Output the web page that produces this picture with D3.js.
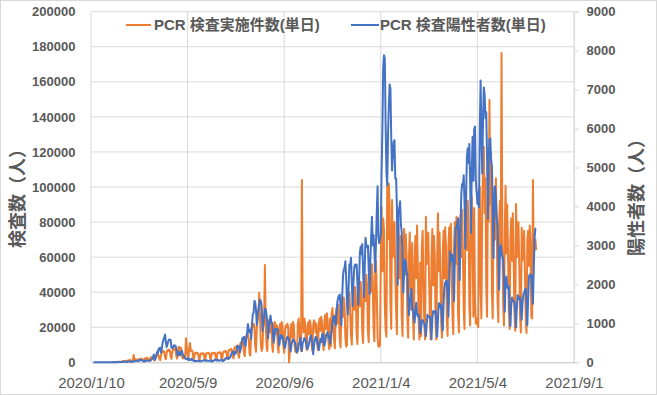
<!DOCTYPE html>
<html>
<head>
<meta charset="utf-8">
<script src="https://cdn.jsdelivr.net/npm/d3@7"></script>
<style>
body { margin: 0; background: #fff; }
svg { display: block; font-family: "Liberation Sans", Arial, "Noto Sans CJK JP", sans-serif; }
</style>
</head>
<body>
<svg width="657" height="395"></svg>
<script>
// daily values, one row per week (Mon..Sun), first row starts on 2020-01-13
var firstDay = "2020-01-13";

// PCR 検査実施件数(単日)  -> left axis
var tests = [
  [null,null,null,null,null,null,null],
  [null,null,null,null,null,null,null],
  [null,null,null,null,null,null,null],
  [null,null,null,0,100,150,60],
  [150,200,300,250,350,150,100],
  [400,600,700,500,800,400,300],
  [900,1100,1000,1400,1200,600,400],
  [1500,4200,1300,1600,1800,900,700],
  [1500,2000,1800,2200,2100,1000,800],
  [1700,2300,1900,2600,2400,1200,900],
  [1900,2800,2500,3000,2600,1300,1000],
  [2500,3500,3600,4500,4000,1800,1200],
  [4000,5500,6000,6500,6000,2800,1800],
  [5500,7000,6500,7200,6800,3000,2000],
  [6000,7500,7200,8000,7400,3300,2100],
  [6500,8900,4000,8500,8000,3400,2200],
  [2500,2800,3000,13700,8500,4000,2300],
  [8000,11000,6500,7000,6200,3000,1900],
  [5200,5600,5000,5400,5000,2400,1500],
  [4800,5100,4800,5200,5000,2300,1500],
  [4900,5300,5000,5400,5100,2400,1600],
  [5000,5400,5100,5500,5200,2500,1600],
  [5200,5600,5300,5800,5500,2600,1700],
  [5700,6200,5900,6500,6200,2900,1900],
  [6600,7200,6800,7600,7300,3400,2200],
  [7800,8800,8300,9300,8800,4100,2600],
  [9800,11300,10800,12300,11300,5300,3400],
  [12800,14800,14300,16300,12800,4900,3900],
  [17000,21000,20000,22000,21000,9000,6000],
  [20000,24000,26000,39700,25000,10000,6500],
  [8000,20000,22000,55500,24000,10000,6500],
  [21000,24000,17000,25000,22000,9500,6000],
  [20000,23000,22000,16000,21000,9000,5500],
  [19000,22000,15000,23000,20000,9000,5500],
  [18000,21000,20000,22000,20000,0,5500],
  [19000,22000,14000,23000,21000,9000,6000],
  [6000,5500,22000,25000,18000,10000,6500],
  [104000,24000,17000,25000,22000,11000,7000],
  [20000,23000,16000,24000,21000,10000,6500],
  [21000,24000,23000,17000,22000,10500,7000],
  [22000,25000,18000,26000,23000,11000,7000],
  [23000,27000,19000,28000,24000,11500,7500],
  [25000,9000,28000,31000,21000,12500,8000],
  [27000,31000,22000,33000,29000,13000,8500],
  [30000,35000,26000,37000,32000,14000,9000],
  [10000,36000,35000,40000,28000,15000,10000],
  [34000,40000,30000,43000,37000,16000,10500],
  [36000,43000,32000,46000,40000,17000,11000],
  [39000,47000,35000,50000,43000,18000,11500],
  [42000,52000,40000,56000,47000,20000,12000],
  [50000,58000,40000,14000,9000,8900,10000],
  [60000,88800,52000,82000,75000,32000,18000],
  [14600,101000,70000,102000,88000,34000,19000],
  [92600,60000,70000,80000,50000,30000,16000],
  [60000,78300,48000,72000,62000,26000,15000],
  [64000,76000,50000,73000,62000,25000,14000],
  [60000,74000,45000,30000,68000,24000,13000],
  [58000,72000,48000,78000,56000,23000,13000],
  [57000,15000,66000,75000,46000,23000,13000],
  [83000,56000,63000,74000,48000,23000,13000],
  [59000,76000,44000,72000,61000,22000,13000],
  [60000,85000,52000,74000,50000,23000,14000],
  [62000,75000,48000,77000,66000,25000,15000],
  [65000,77000,55000,79000,52000,27000,16000],
  [68000,80000,56000,83000,73000,28000,17000],
  [70000,84000,60000,87000,62000,30000,19000],
  [75000,96500,64000,92000,80000,32000,21000],
  [80000,95000,70000,26000,88000,35000,22000],
  [25000,22000,20000,85000,100000,40000,25000],
  [90000,110000,123000,85000,105000,42000,26000],
  [95000,80000,149600,90000,119400,40000,25000],
  [85000,100000,70000,105000,80000,36000,23000],
  [80000,92000,65000,176400,70000,33000,21000],
  [75000,100700,62000,90000,65000,30000,19000],
  [70000,82000,58000,85000,60000,28000,18000],
  [90300,60000,72000,80000,55000,26000,17000],
  [76800,58000,68000,75000,52000,25000,16700],
  [70000,75000,55000,78000,68000,26000,25000],
  [104000,60000,68000,70000,64000]
];

// PCR 検査陽性者数(単日)  -> right axis
var positives = [
  [0,0,1,0,0,0,0],
  [0,0,0,1,1,1,1],
  [1,1,2,3,3,1,2],
  [0,1,2,3,5,1,0],
  [0,1,1,5,8,10,6],
  [8,9,14,12,16,18,20],
  [8,18,20,21,26,12,16],
  [14,22,33,34,39,47,33],
  [26,59,52,54,62,43,32],
  [15,44,36,38,55,37,42],
  [39,40,71,96,112,200,68],
  [86,173,266,224,353,318,377],
  [252,351,503,579,639,714,507],
  [391,457,549,584,586,568,373],
  [364,385,438,432,425,350,220],
  [174,263,201,189,264,294,203],
  [175,123,96,90,83,108,59],
  [58,81,56,95,67,46,32],
  [27,33,32,45,33,47,24],
  [27,31,37,43,56,45,46],
  [35,51,41,36,43,41,47],
  [14,35,43,41,68,57,47],
  [70,42,46,49,54,67,35],
  [30,56,55,105,95,100,113],
  [87,127,122,196,251,273,264],
  [187,256,235,338,430,392,406],
  [261,338,450,622,587,658,509],
  [422,630,790,981,778,776,839],
  [598,982,1245,1264,1580,1539,1331],
  [958,1240,1356,1485,1605,1568,1445],
  [803,1002,1175,1365,1358,1234,1024],
  [618,928,1080,1198,1028,1003,733],
  [505,698,863,844,849,851,641],
  [439,608,693,620,670,532,443],
  [370,500,603,653,633,576,435],
  [280,444,537,585,553,530,467],
  [298,254,301,477,474,632,409],
  [287,508,526,623,586,583,380],
  [343,410,512,605,691,619,483],
  [208,416,564,652,638,520,432],
  [311,456,601,519,706,730,523],
  [431,526,696,720,776,626,667],
  [479,685,810,1042,1139,1191,1045],
  [945,1276,1541,1658,1705,1736,1436],
  [949,1686,2198,2386,2426,2596,2159],
  [1524,1227,1912,2509,2508,2684,2065],
  [1437,2024,2434,2510,2444,2513,2019],
  [1481,2075,2810,2973,2774,3037,2377],
  [1676,2385,3196,2995,2955,2994,2393],
  [1746,2600,3211,3736,3002,3270,2876],
  [2318,3031,3849,4520,3245,3058,3158],
  [3324,4915,6004,7570,7882,7790,6094],
  [4876,4537,5875,6605,7133,7014,5759],
  [4925,5320,5654,5700,4714,4717,3990],
  [1988,3853,3960,4134,3530,3348,2673],
  [1791,2324,2631,2576,2266,2287,1608],
  [1213,1566,1713,1880,1349,1360,1142],
  [1020,1308,1527,1260,1177,1220,1100],
  [745,879,1069,1082,1034,996,881],
  [672,978,1218,1174,1166,1167,1060],
  [593,1129,1316,1286,1271,1320,1065],
  [651,1101,1514,1511,1403,1467,1118],
  [819,1527,1901,2043,2084,2095,1785],
  [1170,1924,2843,2599,2731,2765,2464],
  [1575,2687,3451,3449,3579,3697,2777],
  [2111,3471,4310,4576,4529,4802,4103],
  [2924,4341,5281,5493,5117,5606,4605],
  [3323,4868,5792,4658,5990,6054,4690],
  [4383,4068,4364,3983,6054,7234,5876],
  [4847,6249,7057,6871,6266,6418,5271],
  [3685,5178,5714,5741,5200,5041,4150],
  [2679,4009,4522,4133,3689,3542,2816],
  [1870,2823,3002,2812,2707,2634,2234],
  [1299,2044,2201,1933,1897,1953,1385],
  [935,1432,1661,1573,1573,1541,1310],
  [897,1418,1723,1688,1622,1662,1400],
  [1095,1519,1726,1782,1852,1884,1527],
  [950,1591,2187,2251,2198,2233,1883],
  [1502,2383,3194,3426,3421]
];

var leftTicks = [0,20000,40000,60000,80000,100000,120000,140000,160000,180000,200000];
var rightTicks = [0,1000,2000,3000,4000,5000,6000,7000,8000,9000];
var dateTicks = ["2020/1/10","2020/5/9","2020/9/6","2021/1/4","2021/5/4","2021/9/1"];
var seriesNames = ["PCR 検査実施件数(単日)", "PCR 検査陽性者数(単日)"];
var leftTitle = "検査数（人）";
var rightTitle = "陽性者数（人）";

var svg = d3.select("svg"),
    width = +svg.attr("width"),
    height = +svg.attr("height");

var margin = {left: 91, right: 83, top: 11.7, bottom: 32.7},
    plotW = width - margin.left - margin.right,
    plotH = height - margin.top - margin.bottom;

var parseDay = d3.timeParse("%Y-%m-%d"),
    parseTick = d3.timeParse("%Y/%m/%d");
var start = parseDay(firstDay);
var tickDates = dateTicks.map(function(s) { return parseTick(s); });

function toPoints(rows) {
  return d3.merge(rows).map(function(v, i) {
    return {date: d3.timeDay.offset(start, i), value: v};
  });
}
var testPts = toPoints(tests),
    posPts = toPoints(positives);

var x = d3.scaleTime()
    .domain([tickDates[0], tickDates[tickDates.length - 1]])
    .range([0, plotW]);
var yL = d3.scaleLinear().domain([0, 200000]).range([plotH, 0]);
var yR = d3.scaleLinear().domain([0, 9000]).range([plotH, 0]);

// outer frame
svg.append("rect")
    .attr("x", 0.5).attr("y", 0.5)
    .attr("width", width - 1).attr("height", height - 1)
    .attr("fill", "#fff").attr("stroke", "#d9d9d9");

var g = svg.append("g")
    .attr("transform", "translate(" + margin.left + "," + margin.top + ")");

// grid
g.append("g").attr("class", "grid")
  .selectAll("line").data(leftTicks.slice(1)).enter().append("line")
    .attr("x1", 0).attr("x2", plotW)
    .attr("y1", function(d) { return yL(d); })
    .attr("y2", function(d) { return yL(d); })
    .attr("stroke", "#d9d9d9");
g.append("g").attr("class", "grid")
  .selectAll("line").data(tickDates).enter().append("line")
    .attr("x1", function(d) { return x(d); })
    .attr("x2", function(d) { return x(d); })
    .attr("y1", 0).attr("y2", plotH)
    .attr("stroke", "#d9d9d9");

// axes
var axL = g.append("g")
    .call(d3.axisLeft(yL).tickValues(leftTicks).tickFormat(d3.format("d"))
      .tickSize(0).tickPadding(15.5));
var axR = g.append("g")
    .attr("transform", "translate(" + plotW + ",0)")
    .call(d3.axisRight(yR).tickValues(rightTicks).tickFormat(d3.format("d"))
      .tickSize(5).tickPadding(7.5));
var axB = g.append("g")
    .attr("transform", "translate(0," + plotH + ")")
    .call(d3.axisBottom(x).tickValues(tickDates).tickSize(0).tickPadding(15)
      .tickFormat(function(d, i) { return dateTicks[i]; }));

axL.select(".domain").remove();
axR.select(".domain").attr("stroke", "#d9d9d9");
axR.selectAll(".tick line").attr("stroke", "#d9d9d9");
axB.select(".domain").attr("stroke", "#bfbfbf");

[axL, axR].forEach(function(a) {
  a.selectAll("text")
      .attr("fill", "#595959")
      .style("font-size", "13px")
      .style("font-weight", "bold");
});
axB.selectAll("text")
    .attr("fill", "#595959")
    .style("font-size", "15px");

// series
var lineL = d3.line()
    .defined(function(d) { return d.value != null; })
    .x(function(d) { return x(d.date); })
    .y(function(d) { return yL(d.value); });
var lineR = d3.line()
    .x(function(d) { return x(d.date); })
    .y(function(d) { return yR(d.value); });

g.append("path")
    .datum(testPts)
    .attr("d", lineL)
    .attr("fill", "none")
    .attr("stroke", "#ed7d31")
    .attr("stroke-width", 2)
    .attr("stroke-linejoin", "round");

g.append("path")
    .datum(posPts)
    .attr("d", lineR)
    .attr("fill", "none")
    .attr("stroke", "#4472c4")
    .attr("stroke-width", 2)
    .attr("stroke-linejoin", "round");

// legend
var legend = svg.append("g").attr("class", "legend");
var legendItems = [
  {name: seriesNames[0], color: "#ed7d31", x1: 126, x2: 151, tx: 154},
  {name: seriesNames[1], color: "#4472c4", x1: 351, x2: 379, tx: 380}
];
legendItems.forEach(function(d) {
  legend.append("line")
      .attr("x1", d.x1).attr("x2", d.x2)
      .attr("y1", 25).attr("y2", 25)
      .attr("stroke", d.color).attr("stroke-width", 2);
  legend.append("text")
      .attr("x", d.tx).attr("y", 25)
      .attr("dy", "0.36em")
      .attr("fill", "#595959")
      .style("font-size", "15px")
      .style("font-weight", "bold")
      .text(d.name);
});

// axis titles
svg.append("text")
    .attr("transform", "translate(18,194) rotate(-90)")
    .attr("text-anchor", "middle")
    .attr("dy", "0.35em")
    .attr("fill", "#595959")
    .style("font-family", "'Noto Sans CJK JP', sans-serif")
    .style("font-size", "18px")
    .style("font-weight", "bold")
    .text(leftTitle);

svg.append("text")
    .attr("transform", "translate(637,193) rotate(-90)")
    .attr("text-anchor", "middle")
    .attr("dy", "0.35em")
    .attr("fill", "#595959")
    .style("font-family", "'Noto Sans CJK JP', sans-serif")
    .style("font-size", "18px")
    .style("font-weight", "bold")
    .text(rightTitle);
</script>
</body>
</html>
